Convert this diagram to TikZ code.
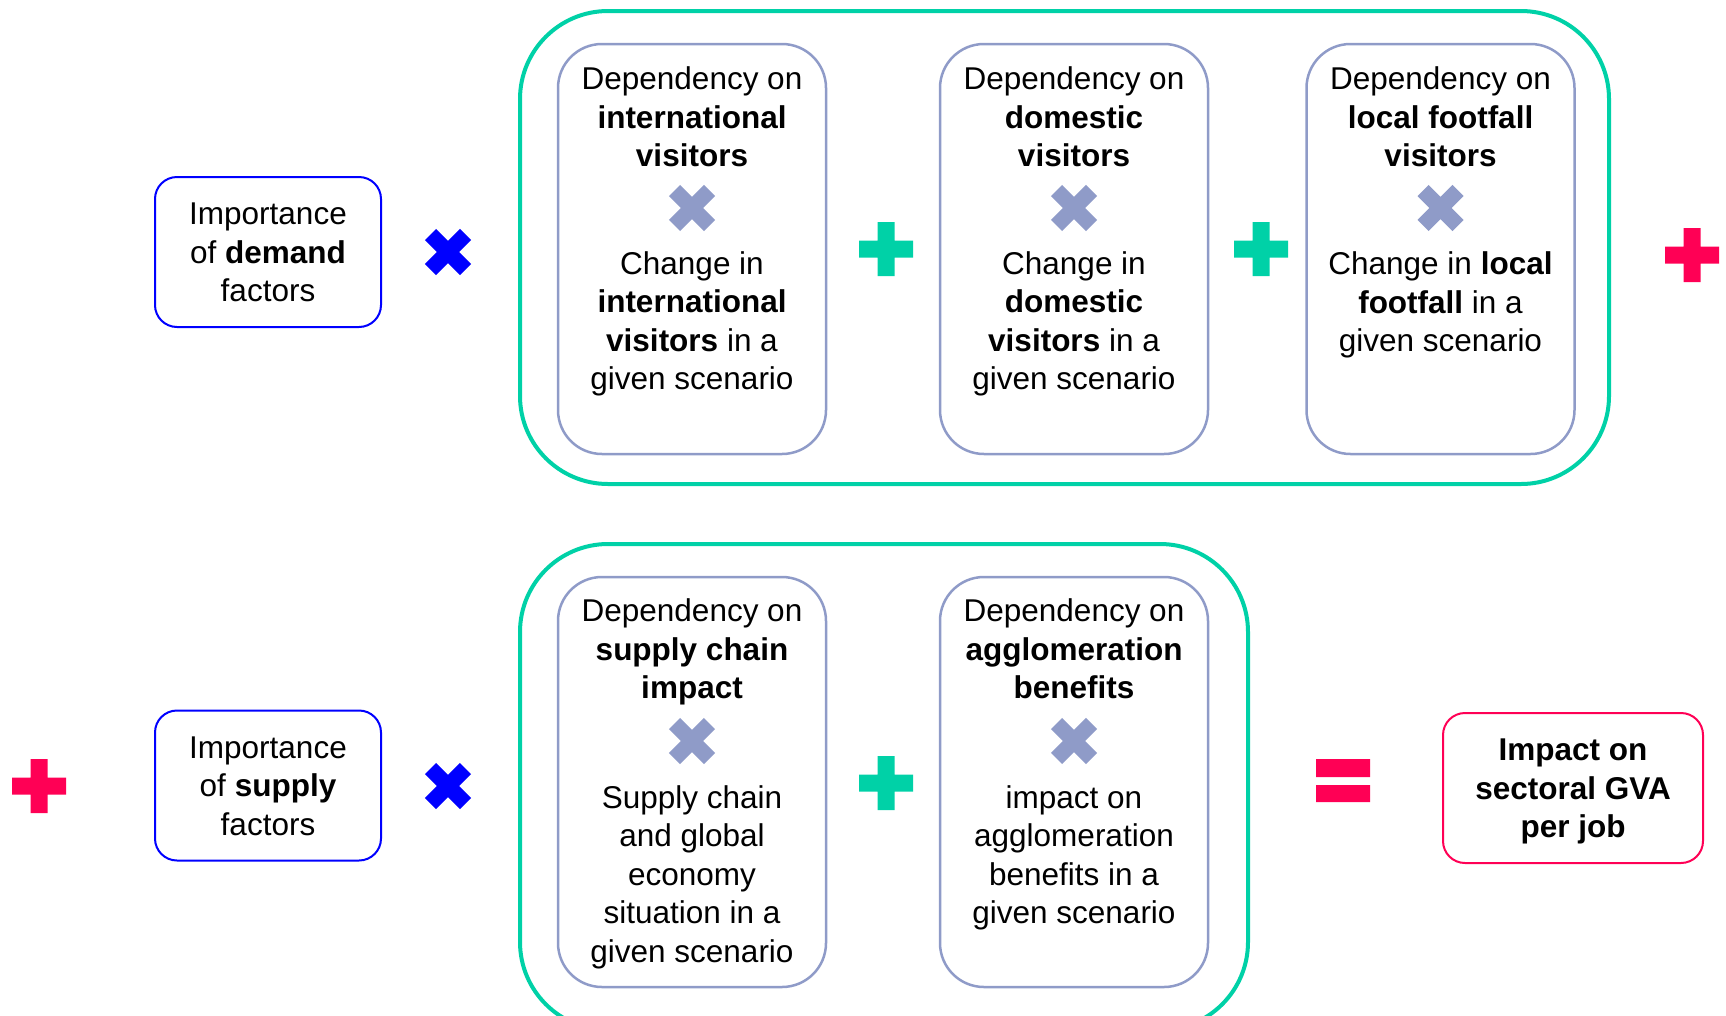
\documentclass[tikz,border=0pt]{standalone}
\usepackage{fontspec}
\setmainfont{Liberation Sans}
\definecolor{tgreen}{HTML}{00D1A7}
\definecolor{tpink}{HTML}{FF0055}
\definecolor{tblue}{HTML}{0000FF}
\definecolor{tgrey}{HTML}{8F9BC8}
\tikzset{
  outerbox/.style={draw=tgreen, line width=4pt, rounded corners=88pt},
  innerbox/.style={draw=tgrey, line width=2.5pt, rounded corners=44pt, inner sep=0pt, minimum width=268pt, minimum height=410pt},
  txt/.style={align=center, inner sep=0pt, yshift=-3.5pt, font=\fontsize{31.5}{38.5}\selectfont},
  factorbox/.style={draw=tblue, line width=2pt, rounded corners=22pt, inner sep=0pt, minimum width=226pt, minimum height=150pt},
  resultbox/.style={draw=tpink, line width=2pt, rounded corners=22pt, inner sep=0pt, minimum width=260pt, minimum height=150pt},
  plusop/.pic={\fill[#1] (-27,-8.5) rectangle (27,8.5) (-8.5,-27) rectangle (8.5,27);},
  timesop/.pic={\fill[#1, rotate=45] (-24.75,-7.8) rectangle (24.75,7.8) (-7.8,-24.75) rectangle (7.8,24.75);},
  equalsop/.pic={\fill[#1] (-27,-21.5) rectangle (27,-3.5) (-27,4.5) rectangle (27,21.5);}
}
\begin{document}
\begin{tikzpicture}[x=1pt,y=-1pt]
\useasboundingbox (0,0) rectangle (1726,1015);
% outer green groups
\draw[outerbox] (520,11) rectangle (1609,484);
\draw[outerbox] (520,544) rectangle (1248,1030);
% inner boxes top
\node[innerbox] (t1) at (692,249) {};
\node[innerbox] (t2) at (1074,249) {};
\node[innerbox] (t3) at (1440.5,249) {};
% inner boxes bottom
\node[innerbox] (b1) at (692,782) {};
\node[innerbox] (b2) at (1074,782) {};
% texts top
\node[txt] (t1a) at (692,117) {\strut Dependency on\\\strut\textbf{international}\\\strut\textbf{visitors}};
\node[txt] (t1b) at (692,321) {\strut Change in\\\strut\textbf{international}\\\strut\textbf{visitors} in a\\\strut given scenario};
\node[txt] (t2a) at (1074,117) {\strut Dependency on\\\strut\textbf{domestic}\\\strut\textbf{visitors}};
\node[txt] (t2b) at (1074,321) {\strut Change in\\\strut\textbf{domestic}\\\strut\textbf{visitors} in a\\\strut given scenario};
\node[txt] (t3a) at (1440.5,117) {\strut Dependency on\\\strut\textbf{local footfall}\\\strut\textbf{visitors}};
\node[txt] (t3b) at (1440.5,302) {\strut Change in \textbf{local}\\\strut\textbf{footfall} in a\\\strut given scenario};
% texts bottom
\node[txt] (b1a) at (692,649) {\strut Dependency on\\\strut\textbf{supply chain}\\\strut\textbf{impact}};
\node[txt] (b1b) at (692,874) {\strut Supply chain\\\strut and global\\\strut economy\\\strut situation in a\\\strut given scenario};
\node[txt] (b2a) at (1074,649) {\strut Dependency on\\\strut\textbf{agglomeration}\\\strut\textbf{benefits}};
\node[txt] (b2b) at (1074,855) {\strut impact on\\\strut agglomeration\\\strut benefits in a\\\strut given scenario};
% factor boxes
\node[factorbox] (demand) at (268,252) {};
\node[txt] (demandt) at (demand.center) {\strut Importance\\\strut of \textbf{demand}\\\strut factors};
\node[factorbox] (supply) at (268,785.5) {};
\node[txt] (supplyt) at (supply.center) {\strut Importance\\\strut of \textbf{supply}\\\strut factors};
\node[resultbox] (impact) at (1573,788) {};
\node[txt] (impactt) at (impact.center) {\strut\textbf{Impact on}\\\strut\textbf{sectoral GVA}\\\strut\textbf{per job}};
% operators
\pic (x1) at (448,252) {timesop=tblue};
\pic (x2) at (448,786) {timesop=tblue};
\pic (g1) at (692,208) {timesop=tgrey};
\pic (g2) at (1074,208) {timesop=tgrey};
\pic (g3) at (1440.5,208) {timesop=tgrey};
\pic (g4) at (692,741) {timesop=tgrey};
\pic (g5) at (1074,741) {timesop=tgrey};
\pic (p1) at (886,249) {plusop=tgreen};
\pic (p2) at (1261,249) {plusop=tgreen};
\pic (p3) at (886,783) {plusop=tgreen};
\pic (p4) at (1692,255) {plusop=tpink};
\pic (p5) at (39,786) {plusop=tpink};
\pic (eq) at (1343,780.5) {equalsop=tpink};
\end{tikzpicture}
\end{document}
